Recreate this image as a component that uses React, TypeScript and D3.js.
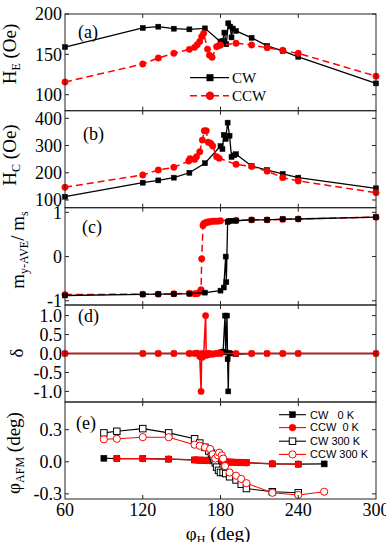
import React from 'react';
import * as d3 from 'd3';

type P = [number, number];

const xTicks = [60, 120, 180, 240, 300];

// (a) H_E
const heCW: P[] = [[60,159],[120,182.7],[132,184.3],[144,181.8],[156,181],[168,182.2],[180,165.7],[181.5,166.5],[183,177],[184.5,162.5],[186,188.5],[187.5,184.5],[188.5,171],[189.5,182],[192,179],[204,170.5],[216,160.5],[228,154.2],[240,147],[300,114]];
const heCCW: P[] = [[60,115.7],[120,138],[132,145.5],[144,151.3],[156,156.2],[160,158.7],[162,162],[164,166],[165.5,172],[167,176],[170,156.5],[171.5,149],[173.5,146.3],[177,159.5],[179,161],[180,161.6],[192,163.7],[204,161.6],[216,158.2],[228,155],[240,151.3],[300,123]];
// (b) H_C
const hcCW: P[] = [[60,112],[120,163.5],[132,172],[144,182],[156,200],[168,235],[180,298],[181.5,287],[182.5,339],[184,324],[185.5,384],[187,336],[188.5,258],[190.5,264],[192,268],[204,225],[216,210],[228,195.5],[240,182],[300,143]];
const hcCCW: P[] = [[60,147],[120,192],[132,210],[144,220],[155.5,243],[156.5,252],[160,249],[161.5,259],[164,277],[166,320],[167.5,354],[169,354],[170.5,312],[172.5,308],[174,298],[177,259],[179,253],[192,231],[204,223],[216,206],[228,182],[240,170],[300,127]];
// (c) m_y-AVE / m_s
const myCW: P[] = [[60,-0.88],[120,-0.855],[132,-0.85],[144,-0.85],[156,-0.84],[168,-0.815],[180,-0.77],[182.5,-0.7],[184,0.0],[184.5,-0.58],[185.5,0.78],[186.5,0.8],[188,0.81],[192,0.81],[204,0.83],[216,0.83],[228,0.845],[240,0.85],[300,0.89]];
const myCCW: P[] = [[60,-0.86],[120,-0.85],[132,-0.85],[144,-0.84],[156,-0.83],[160,-0.84],[162,-0.84],[164,-0.8],[165,-0.75],[165.5,-0.05],[166.5,0.7],[167,0.74],[168,0.76],[169,0.77],[170,0.78],[171,0.78],[172,0.79],[174,0.8],[176,0.8],[178,0.8],[180,0.81],[192,0.82],[204,0.83],[216,0.83],[228,0.84],[240,0.85],[300,0.89]];
// (d) delta
const dCW: P[] = [[60,0],[120,0],[132,0],[144,0],[156,0],[168,0],[180,0.03],[182,0.05],[183.5,1.0],[184,0.03],[185,1.0],[185.5,-0.15],[186,-1.0],[186.5,0.02],[188,0],[192,-0.02],[204,0],[216,0],[228,0],[240,0],[300,0]];
const dCCW: P[] = [[60,0],[120,0],[132,0],[144,0],[156,0],[160,0],[162,0.01],[164,-0.08],[165,-1.0],[165.5,0.0],[166,-0.1],[167,-0.05],[168.5,1.0],[169,-0.05],[170,0],[171,-0.03],[172,0],[174,-0.02],[176,0],[178,0],[180,0],[192,0],[204,0],[216,0],[228,0],[240,0],[300,0]];
// (e) phi_AFM
const phiCW0: P[] = [[90,0.033],[100,0.03],[120,0.03],[140,0.025],[160,0.017],[164,0.015],[168,0.013],[172,0.01],[176,0.007],[180,0.003],[184,0],[188,-0.003],[192,-0.005],[196,-0.007],[200,-0.009],[220,-0.02],[240,-0.022],[260,-0.02]];
const phiCCW0: P[] = [[100,0.03],[120,0.03],[140,0.025],[160,0.018],[162,0.017],[164,0.016],[166,0.015],[168,0.014],[170,0.012],[172,0.011],[174,0.009],[176,0.007],[178,0.005],[180,0.003],[182,0.001],[184,0],[186,-0.002],[188,-0.003],[190,-0.004],[192,-0.005],[194,-0.006],[196,-0.007],[198,-0.008],[200,-0.009],[220,-0.018],[240,-0.022]];
const phiCW300: P[] = [[90,0.27],[100,0.285],[120,0.31],[140,0.27],[160,0.215],[164,0.175],[168,0.135],[171,0.1],[173,0.08],[174,0.05],[175,0.02],[176,-0.01],[177,-0.05],[178.5,-0.08],[180,-0.1],[182,-0.1],[184,-0.11],[187,-0.14],[192,-0.17],[196,-0.21],[200,-0.25],[220,-0.28],[240,-0.29]];
const phiCCW300: P[] = [[90,0.21],[100,0.215],[120,0.23],[140,0.23],[160,0.16],[164,0.15],[168,0.135],[172,0.12],[174,0.07],[176,0.03],[178,0.06],[179,0.085],[181,0.06],[182,0.03],[183.5,-0.04],[187,-0.1],[192,-0.13],[196,-0.16],[200,-0.2],[220,-0.29],[240,-0.31],[260,-0.28]];

const ticksA = [100, 150, 200];
const ticksB = [100, 200, 300, 400];
const ticksC = [-1, 0, 1];
const ticksD = [-1.0, -0.5, 0.0, 0.5, 1.0];
const ticksE = [-0.3, 0.0, 0.3];

const legendA = ['CW', 'CCW'];
const legendE = ['CW   0 K', 'CCW  0 K', 'CW 300 K', 'CCW 300 K'];

const RED = '#ff0000';
const BLK = '#000000';
const SERIF = '"Liberation Serif", "Times New Roman", serif';
const SANS = '"Liberation Sans", Arial, sans-serif';

const x = d3.scaleLinear().domain([60, 300]).range([65, 376]);

type Series = {
  data: P[]; color: string; marker: 'sq' | 'ci'; size: number; open?: boolean; dash?: string; lw: number;
};

type Panel = {
  top: number; bottom: number; domain: [number, number]; ticks: number[]; fmt: (v: number) => string;
  label: string; lx: number; ly: number; series: Series[];
};

const fmtInt = (v: number) => String(v);
const fmt1 = (v: number) => v.toFixed(1);

const panels: Panel[] = [
  { top: 14, bottom: 110.7, domain: [80.2, 200], ticks: ticksA, fmt: fmtInt, label: '(a)', lx: 78, ly: 32,
    series: [
      { data: heCW, color: BLK, marker: 'sq', size: 5, lw: 1.3 },
      { data: heCCW, color: RED, marker: 'ci', size: 3.2, dash: '7,4', lw: 1.5 },
    ] },
  { top: 110.7, bottom: 207.7, domain: [71.7, 427.9], ticks: ticksB, fmt: fmtInt, label: '(b)', lx: 83, ly: 134,
    series: [
      { data: hcCW, color: BLK, marker: 'sq', size: 5, lw: 1.3 },
      { data: hcCCW, color: RED, marker: 'ci', size: 3.2, dash: '7,4', lw: 1.5 },
    ] },
  { top: 207.7, bottom: 305, domain: [-1.095, 1.105], ticks: ticksC, fmt: (v) => String(v), label: '(c)', lx: 82, ly: 227,
    series: [
      { data: myCCW, color: RED, marker: 'ci', size: 3.2, dash: '7,4', lw: 1.5 },
      { data: myCW, color: BLK, marker: 'sq', size: 5, lw: 1.3 },
    ] },
  { top: 305, bottom: 402, domain: [-1.28, 1.28], ticks: ticksD, fmt: fmt1, label: '(d)', lx: 78, ly: 316,
    series: [
      { data: dCW, color: BLK, marker: 'sq', size: 5, lw: 1.3 },
      { data: dCCW, color: RED, marker: 'ci', size: 3.2, lw: 1.5 },
    ] },
  { top: 402, bottom: 499, domain: [-0.348, 0.559], ticks: ticksE, fmt: fmt1, label: '(e)', lx: 76, ly: 423,
    series: [
      { data: phiCW0, color: BLK, marker: 'sq', size: 6, lw: 1.2 },
      { data: phiCCW0, color: RED, marker: 'ci', size: 3.4, lw: 1.2 },
      { data: phiCW300, color: BLK, marker: 'sq', size: 6.5, open: true, lw: 1.1 },
      { data: phiCCW300, color: RED, marker: 'ci', size: 3.6, open: true, lw: 1.1 },
    ] },
];

function Marker({ cx, cy, s }: { cx: number; cy: number; s: Series }) {
  const fill = s.open ? '#fff' : s.color;
  if (s.marker === 'sq') {
    return <rect x={cx - s.size / 2} y={cy - s.size / 2} width={s.size} height={s.size} fill={fill} stroke={s.color} strokeWidth={s.open ? 1 : 0.5} />;
  }
  return <circle cx={cx} cy={cy} r={s.size} fill={fill} stroke={s.color} strokeWidth={s.open ? 1 : 0.5} />;
}

function PanelView({ p }: { p: Panel }) {
  const y = d3.scaleLinear().domain(p.domain).range([p.bottom, p.top]);
  const line = d3.line<P>().x((d) => x(d[0])).y((d) => y(d[1]));
  const tl = 4;
  return (
    <g>
      {p.series.map((s, i) => (
        <g key={i}>
          <path d={line(s.data) || ''} fill="none" stroke={s.color} strokeWidth={s.lw} strokeDasharray={s.dash} />
          {s.data.map((d, j) => <Marker key={j} cx={x(d[0])} cy={y(d[1])} s={s} />)}
        </g>
      ))}
      <rect x={x(60)} y={p.top} width={x(300) - x(60)} height={p.bottom - p.top} fill="none" stroke="#222" strokeWidth={1} />
      {xTicks.slice(1, -1).map((t) => (
        <g key={t}>
          <line x1={x(t)} x2={x(t)} y1={p.top} y2={p.top + tl} stroke="#222" />
          <line x1={x(t)} x2={x(t)} y1={p.bottom} y2={p.bottom - tl} stroke="#222" />
        </g>
      ))}
      {p.ticks.map((t) => (
        <g key={t}>
          <line x1={x(60)} x2={x(60) + tl} y1={y(t)} y2={y(t)} stroke="#222" />
          <line x1={x(300)} x2={x(300) - tl} y1={y(t)} y2={y(t)} stroke="#222" />
          <text x={x(60) - 3} y={y(t)} dy="0.35em" textAnchor="end" fontSize={18} fontFamily={SERIF}>{p.fmt(t)}</text>
        </g>
      ))}
      <text x={p.lx} y={p.ly} dy="0.35em" fontSize={18} fontFamily={SERIF}>{p.label}</text>
    </g>
  );
}

export default function App() {
  const pe = panels[4];
  const ye = d3.scaleLinear().domain(pe.domain).range([pe.bottom, pe.top]);
  const legRowsE = [414.7, 427.6, 441.2, 454.4];
  return (
    <svg width={386} height={542} viewBox="0 0 386 542" style={{ position: 'absolute', left: 0, top: 0, background: '#fff' }}>
      <rect x={0} y={0} width={386} height={542} fill="#fff" />
      {panels.map((p, i) => <PanelView key={i} p={p} />)}

      {/* legend (a) */}
      <g>
        <line x1={190} x2={229} y1={77.7} y2={77.7} stroke={BLK} strokeWidth={1.3} />
        <rect x={210 - 3.5} y={77.7 - 3.5} width={7} height={7} fill={BLK} />
        <text x={232} y={77.7} dy="0.35em" fontSize={15} fontFamily={SERIF}>{legendA[0]}</text>
        <line x1={190} x2={229} y1={95.7} y2={95.7} stroke={RED} strokeWidth={1.5} strokeDasharray="7,4" />
        <circle cx={210} cy={95.7} r={4.2} fill={RED} />
        <text x={232} y={95.7} dy="0.35em" fontSize={15} fontFamily={SERIF}>{legendA[1]}</text>
      </g>

      {/* legend (e) */}
      <g>
        {legendE.map((lab, i) => {
          const s = pe.series[i];
          const yy = legRowsE[i];
          return (
            <g key={i}>
              <line x1={279} x2={306} y1={yy} y2={yy} stroke={s.color} strokeWidth={1.1} />
              <Marker cx={292.5} cy={yy} s={s} />
              <text x={310} y={yy} dy="0.35em" fontSize={11} fontFamily={SANS} style={{ whiteSpace: 'pre' }}>{lab}</text>
            </g>
          );
        })}
      </g>

      {/* x tick labels */}
      {xTicks.map((t) => (
        <text key={t} x={x(t)} y={510} dy="0.35em" textAnchor="middle" fontSize={18} fontFamily={SERIF}>{t}</text>
      ))}
      <text x={218} y={540} textAnchor="middle" fontSize={19} fontFamily={SERIF}>
        φ<tspan fontSize={12} dy={4}>H</tspan><tspan dy={-4}> (deg)</tspan>
      </text>

      {/* y titles */}
      <text transform="translate(16,54) rotate(-90)" textAnchor="middle" fontSize={19} fontFamily={SERIF}>
        H<tspan fontSize={12} dy={4}>E</tspan><tspan dy={-4}> (Oe)</tspan>
      </text>
      <text transform="translate(16,155) rotate(-90)" textAnchor="middle" fontSize={19} fontFamily={SERIF}>
        H<tspan fontSize={12} dy={4}>C</tspan><tspan dy={-4}> (Oe)</tspan>
      </text>
      <text transform="translate(24,250) rotate(-90)" textAnchor="middle" fontSize={19} fontFamily={SERIF}>
        m<tspan fontSize={12} dy={4}>y-AVE</tspan><tspan dy={-4}>/ m</tspan><tspan fontSize={12} dy={4}>s</tspan>
      </text>
      <text transform="translate(23,353) rotate(-90)" textAnchor="middle" fontSize={19} fontFamily={SERIF}>δ</text>
      <text transform="translate(20,453) rotate(-90)" textAnchor="middle" fontSize={19} fontFamily={SERIF}>
        φ<tspan fontSize={12} dy={4}>AFM</tspan><tspan dy={-4}> (deg)</tspan>
      </text>
    </svg>
  );
}
